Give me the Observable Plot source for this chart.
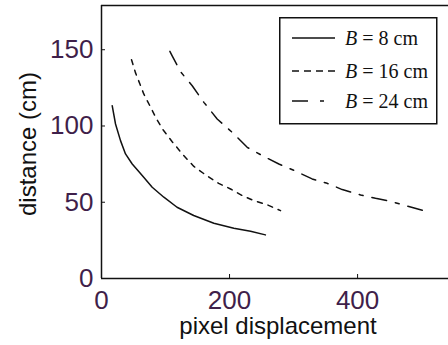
<!DOCTYPE html>
<html>
<head>
<meta charset="utf-8">
<script src="https://cdn.jsdelivr.net/npm/d3@7"></script>
<script src="https://cdn.jsdelivr.net/npm/@observablehq/plot@0.6"></script>
<style>
  html, body { margin: 0; padding: 0; background: #fff; overflow: hidden; }
  #wrap { position: relative; width: 448px; height: 345px; }
  #legend { position: absolute; left: 279px; top: 17px; }
</style>
</head>
<body>
<div id="wrap"><div id="chart"></div><svg id="legend" width="159" height="108"></svg></div>
<script>
// ---- data ----
const seriesNames = ["B = 8 cm", "B = 16 cm", "B = 24 cm"];
const baselines = ["8", "16", "24"];
const xTicks = [0, 200, 400];
const yTicks = [0, 50, 100, 150];
const xDomain = [0, 542];
const yDomain = [0, 179];
const xLabel = "pixel displacement";
const yLabel = "distance (cm)";

const x8  = [16.7, 21.9, 29.7, 37.5, 48, 63.6, 79.2, 97.4, 118, 144, 175.5, 206.7, 232.8, 256];
const y8  = [113.3, 101.3, 90.4, 81.7, 75.1, 67.5, 59.8, 53.3, 46.7, 41.3, 36.2, 33, 31, 28.6];
const x16 = [46.9, 53, 60, 66, 75.5, 86, 96.4, 110.4, 127.6, 144.3, 164, 183, 201.6, 219.8, 238, 259, 279.7];
const y16 = [143.4, 135, 127.5, 121, 113.3, 104.6, 97.4, 89.7, 81, 73.5, 67.5, 62.4, 58.7, 54.4, 51, 48.3, 44.5];
const x24 = [106.8, 110.4, 123.4, 141.7, 159.9, 180.7, 204.2, 227.6, 253.6, 277, 301, 329, 352.6, 376, 404.7, 428, 451.6, 480, 503.6];
const y24 = [148.9, 146, 135.6, 126.4, 115.5, 104.6, 95.8, 86, 80, 75.1, 70.8, 65.3, 62.4, 58.3, 54.8, 52.6, 50.6, 47.2, 44.5];

// ---- styles ----
const dashes = [null, "5,6", "15,9,4,9"];
const tickColor = "#3f1f4a";
const sans = "Liberation Sans, Arial, sans-serif";

const series = [[x8, y8], [x16, y16], [x24, y24]].map(([xs, ys], i) =>
  xs.map((x, j) => ({x, y: ys[j], series: seriesNames[i]})));

const lineMarks = series.map((d, i) =>
  Plot.line(d, {x: "x", y: "y", stroke: "#111", strokeWidth: 1.5,
    strokeDasharray: dashes[i] || undefined}));

const chart = Plot.plot({
  width: 448,
  height: 345,
  marginLeft: 101,
  marginRight: 0,
  marginTop: 5,
  marginBottom: 67,
  style: {background: "transparent"},
  x: {domain: xDomain},
  y: {domain: yDomain},
  marks: [
    ...lineMarks,
    Plot.ruleX([xDomain[0]], {stroke: "#111", strokeWidth: 1.5}),
    Plot.ruleY([yDomain[0]], {stroke: "#111", strokeWidth: 1.5}),
    Plot.ruleY([yDomain[1]], {stroke: "#111", strokeWidth: 1.5}),
    Plot.axisX({ticks: xTicks, tickSize: -4, tickFormat: () => "", label: null, stroke: "#111"}),
    Plot.axisY({ticks: yTicks, tickSize: -4, tickFormat: () => "", label: null, stroke: "#111"}),
    Plot.axisX({ticks: xTicks, tickSize: 0, tickPadding: 12, label: null,
      fontSize: 26, fontFamily: sans, fill: tickColor}),
    Plot.axisY({ticks: yTicks, tickSize: 0, tickPadding: 8, label: null,
      fontSize: 26, fontFamily: sans, fill: tickColor}),
    Plot.text([xLabel], {frameAnchor: "bottom", dx: 3, dy: 48, fontSize: 24,
      fontFamily: sans, fill: "#111", lineAnchor: "middle", textAnchor: "middle"}),
    Plot.text([yLabel], {frameAnchor: "left", dx: -73, dy: 2, rotate: -90, fontSize: 24,
      fontFamily: sans, fill: "#111", lineAnchor: "middle", textAnchor: "middle"})
  ]
});
document.getElementById("chart").appendChild(chart);

// ---- legend ----
const lg = d3.select("#legend");
lg.append("rect").attr("x", 0.75).attr("y", 0.75).attr("width", 157).attr("height", 106)
  .attr("fill", "#fff").attr("stroke", "#111").attr("stroke-width", 1.5);
const rowY = [21, 54, 84];
seriesNames.forEach((name, i) => {
  lg.append("line").attr("x1", 13).attr("x2", 56).attr("y1", rowY[i]).attr("y2", rowY[i])
    .attr("stroke", "#111").attr("stroke-width", 1.5)
    .attr("stroke-dasharray", i === 1 ? "7,5" : i === 2 ? "16,12,4,20" : null);
  const t = lg.append("text").attr("x", 66).attr("y", rowY[i]).attr("dy", "0.35em")
    .attr("font-family", "Liberation Serif, Times New Roman, serif").attr("font-size", 20).attr("fill", "#111");
  t.append("tspan").attr("font-style", "italic").text("B");
  t.append("tspan").text(" = " + baselines[i] + " cm");
});
</script>
</body>
</html>
